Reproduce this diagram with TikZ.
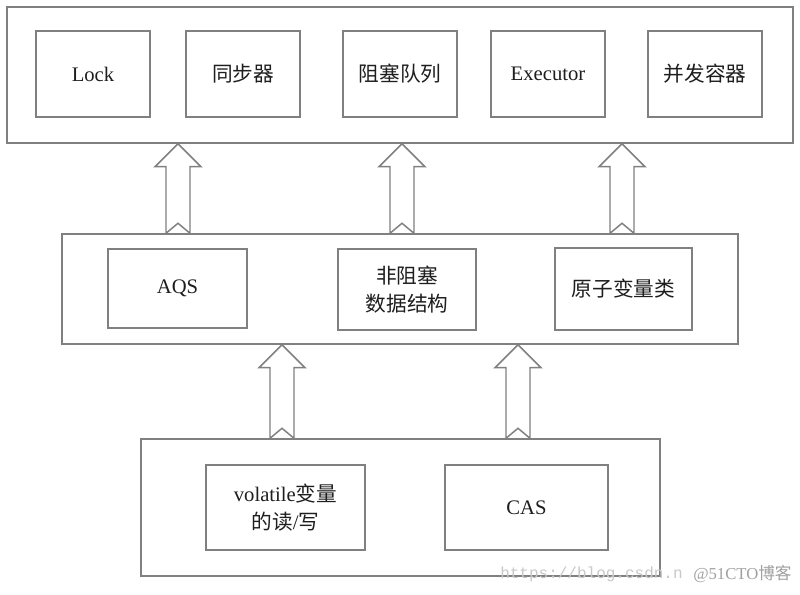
\documentclass[tikz,border=0pt]{standalone}
\usepackage{fontspec}
\setmainfont{Liberation Serif}
\setmonofont{Liberation Mono}
\newfontfamily\cjk{Noto Sans CJK SC}
\usetikzlibrary{fit,calc}
\definecolor{edge}{RGB}{128,128,128}
\definecolor{ink}{RGB}{30,30,30}
\definecolor{wm}{RGB}{200,200,200}
\begin{document}
\begin{tikzpicture}[x=0.75pt,y=-0.75pt,
  box/.style={draw=edge, line width=1.1pt, inner sep=0pt, fill=white},
  txt/.style={text=ink, font=\fontsize{15.5}{21}\selectfont, align=center, inner sep=0pt},
  bigarrow/.style={draw=edge, line width=1.1pt, fill=white, line join=miter}]
\useasboundingbox (0,0) rectangle (800,595);
\fill[white] (0,0) rectangle (800,595);

% top layer
\node[box, fit={(7,7) (793,143)}] (top) {};
\node[box, fit={(36,31) (150,117)}] (lock) {};
\node[box, fit={(186,31) (300,117)}] (sync) {};
\node[box, fit={(343,31) (457,117)}] (bq) {};
\node[box, fit={(491,31) (605,117)}] (exec) {};
\node[box, fit={(648,31) (762,117)}] (cc) {};
\node[txt] (lockt) at (lock.center) {Lock};
\node[txt] (synct) at (sync.center) {\cjk 同步器};
\node[txt] (bqt) at (bq.center) {\cjk 阻塞队列};
\node[txt] (exect) at (exec.center) {Executor};
\node[txt] (cct) at (cc.center) {\cjk 并发容器};

% middle layer
\node[box, fit={(62,234) (738,344)}] (mid) {};
\node[box, fit={(108,249) (247,328)}] (aqs) {};
\node[box, fit={(338,249) (476,330)}] (nb) {};
\node[box, fit={(555,248) (692,330)}] (atom) {};
\node[txt] (aqst) at (aqs.center) {AQS};
\node[txt] (nbt) at (nb.center) {\cjk 非阻塞\\\cjk 数据结构};
\node[txt] (atomt) at (atom.center) {\cjk 原子变量类};

% bottom layer
\node[box, fit={(141,439) (660,576)}] (bot) {};
\node[box, fit={(206,465) (365,550)}] (vol) {};
\node[box, fit={(445,465) (608,550)}] (cas) {};
\node[txt] (volt) at (vol.center) {volatile{\cjk 变量}\\{\cjk 的读}/{\cjk 写}};
\node[txt] (cast) at (cas.center) {CAS};

% block arrows (tip at the box above, tail at the box below)
\foreach \ax/\up/\dn in {178/top/mid, 402/top/mid, 622/top/mid, 282/mid/bot, 518/mid/bot}{
  \coordinate (tip) at (\ax,0 |- \up.south);
  \coordinate (tail) at (\ax,0 |- \dn.north);
  \draw[bigarrow] (tip) -- ($(tip)+(23,23)$) -- ($(tip)+(12,23)$) -- ($(tail)+(12,0)$)
     -- ($(tail)+(0,-10)$) -- ($(tail)+(-12,0)$) -- ($(tip)+(-12,23)$) -- ($(tip)+(-23,23)$) -- cycle;
}

% watermark
\node[anchor=west, text=wm, font=\ttfamily\fontsize{12}{12}\selectfont, inner sep=0pt] (wm1) at (500,574) {https://blog.csdn.n};
\node[anchor=west, text=wm!80!black, font=\fontsize{12.5}{12}\selectfont, inner sep=0pt] (wm2) at (693,574) {@51CTO{\cjk 博客}};
\end{tikzpicture}
\end{document}
